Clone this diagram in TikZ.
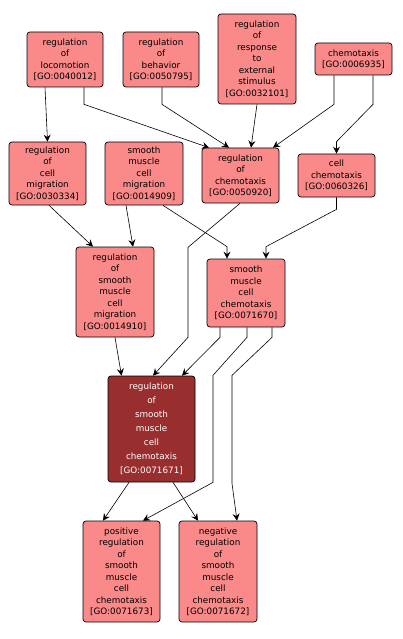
\documentclass[tikz,border=0pt]{standalone}
\usepackage{fontspec}
\setmainfont{DejaVu Sans}
\usetikzlibrary{arrows.meta}
\definecolor{pinkfill}{RGB}{250,137,137}
\definecolor{darkfill}{RGB}{152,46,46}
\tikzset{
  gobox/.style={draw=black, fill=pinkfill, rounded corners=3pt, line width=0.7pt,
    align=center, inner sep=0pt, font=\fontsize{8.8}{11.5}\selectfont, text=black},
  mainbox/.style={gobox, fill=darkfill, text=white, font=\fontsize{8.8}{14}\selectfont},
  arr/.style={draw=black, line width=0.6pt, -{Stealth[length=7pt,width=7pt,inset=2.5pt]}}
}
\begin{document}
\begin{tikzpicture}[x=1pt,y=-1pt]
\useasboundingbox (0,0) rectangle (402,639);
\node[gobox, minimum width=76pt, minimum height=55pt] (regloc) at (65,59.5) {regulation\\of\\locomotion\\{[GO:0040012]}};
\node[gobox, minimum width=76pt, minimum height=55pt] (regbeh) at (161,59.5) {regulation\\of\\behavior\\{[GO:0050795]}};
\node[gobox, minimum width=78pt, minimum height=90pt] (regresp) at (257,59) {regulation\\of\\response\\to\\external\\stimulus\\{[GO:0032101]}};
\node[gobox, minimum width=77pt, minimum height=32pt] (chemo) at (353.5,59) {chemotaxis\\{[GO:0006935]}};
\node[gobox, minimum width=77pt, minimum height=63pt] (regcellmig) at (47.5,173.5) {regulation\\of\\cell\\migration\\{[GO:0030334]}};
\node[gobox, minimum width=78pt, minimum height=63pt] (smcm) at (144,173.5) {smooth\\muscle\\cell\\migration\\{[GO:0014909]}};
\node[gobox, minimum width=77pt, minimum height=55pt] (regchem) at (240.5,175.5) {regulation\\of\\chemotaxis\\{[GO:0050920]}};
\node[gobox, minimum width=77pt, minimum height=43pt] (cellchem) at (336.5,175.5) {cell\\chemotaxis\\{[GO:0060326]}};
\node[gobox, minimum width=78pt, minimum height=90pt] (regsmcm) at (115,292) {regulation\\of\\smooth\\muscle\\cell\\migration\\{[GO:0014910]}};
\node[gobox, minimum width=78pt, minimum height=68pt] (smcc) at (246,293) {smooth\\muscle\\cell\\chemotaxis\\{[GO:0071670]}};
\node[mainbox, minimum width=87pt, minimum height=106pt] (main) at (151.5,429) {regulation\\of\\smooth\\muscle\\cell\\chemotaxis\\{[GO:0071671]}};
\node[gobox, minimum width=77pt, minimum height=101pt] (pos) at (121.5,571.5) {positive\\regulation\\of\\smooth\\muscle\\cell\\chemotaxis\\{[GO:0071673]}};
\node[gobox, minimum width=78pt, minimum height=101pt] (neg) at (218,571.5) {negative\\regulation\\of\\smooth\\muscle\\cell\\chemotaxis\\{[GO:0071672]}};

\draw[arr] ([xshift=-20pt]regloc.south) -- (regcellmig.north);
\draw[arr] ([xshift=19pt]regloc.south) -- ++(0,17) -- ([xshift=-31.5pt]regchem.north);
\draw[arr] ([xshift=1pt]regbeh.south) -- ++(0,17) -- ([xshift=-11.5pt]regchem.north);
\draw[arr] (regresp.south) -- ([xshift=10.5pt]regchem.north);
\draw[arr] ([xshift=-19.5pt]chemo.south) -- ++(0,29) -- ([xshift=32.5pt]regchem.north);
\draw[arr] ([xshift=19.5pt]chemo.south) -- ++(0,29) -- ([yshift=12pt]cellchem.north) -- (cellchem.north);
\draw[arr] ([xshift=1.5pt]regcellmig.south) -- ([xshift=-22pt]regsmcm.north);
\draw[arr] ([xshift=-18pt]smcm.south) -- ([xshift=18pt]regsmcm.north);
\draw[arr] ([xshift=19pt]smcm.south) -- ([xshift=-19pt,yshift=12pt]smcc.north) -- ([xshift=-19pt]smcc.north);
\draw[arr] ([xshift=-0.5pt]regchem.south) -- ++(-52,44) -- ++(0,90) -- ([xshift=1.5pt]main.north);
\draw[arr] (cellchem.south) -- ++(0,12) -- ([xshift=20pt,yshift=12pt]smcc.north) -- ([xshift=20pt]smcc.north);
\draw[arr] (regsmcm.south) -- ([xshift=-30pt]main.north);
\draw[arr] ([xshift=-26pt]smcc.south) -- ++(0,10) -- ([xshift=30.5pt]main.north);
\draw[arr] ([xshift=1pt]smcc.south) -- ++(0,10) -- ++(-34,38) -- ++(0,107) -- ([xshift=21.5pt]pos.north);
\draw[arr] ([xshift=26pt]smcc.south) -- ++(0,10) -- ++(-40,38) -- ++(0,108) -- ([xshift=19pt]neg.north);
\draw[arr] ([xshift=-22.5pt]main.south) -- ([xshift=-18.5pt]pos.north);
\draw[arr] ([xshift=21.5pt]main.south) -- ([xshift=-20pt]neg.north);
\end{tikzpicture}
\end{document}
